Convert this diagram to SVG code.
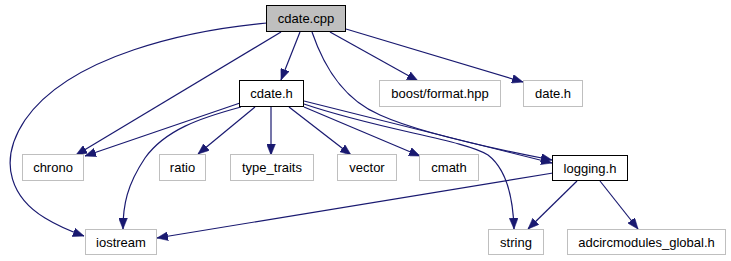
<svg xmlns="http://www.w3.org/2000/svg" width="731" height="261" viewBox="0 0 731 261">
  <style>
    .node rect { fill: #ffffff; stroke: #bfbfbf; stroke-width: 1; }
    .node.main rect { fill: #bfbfbf; stroke: #000000; }
    .node.doc rect { stroke: #000000; }
    .node text { font-family: "Liberation Sans", Arial, sans-serif; font-size: 13px; fill: #000000; text-anchor: middle; }
    .edges path { fill: none; stroke: #191970; stroke-width: 1.2; marker-end: url(#arrow); }
  </style>
  <defs>
    <marker id="arrow" markerUnits="userSpaceOnUse" viewBox="0 0 10 8" refX="10" refY="4" markerWidth="11" markerHeight="9" orient="auto">
      <path d="M0,0 L10,4 L0,8 z" fill="#191970" stroke="#191970" stroke-width="0.5"/>
    </marker>
  </defs>
  <rect width="731" height="261" fill="#ffffff"/>

  <g class="edges" id="edges">
    <!-- cdate.cpp includes -->
    <path d="M267,23 C190,30 70,55 25,120 C-5,165 15,200 45,218 C58,226 70,231 84,236"/>
    <path d="M281,32 L76,155"/>
    <path d="M300,32 L281,80"/>
    <path d="M312,32 C325,70 345,100 380,115 C420,133 500,150 552,160"/>
    <path d="M330,32 L418,81"/>
    <path d="M346,29 L523,82"/>
    <!-- cdate.h includes -->
    <path d="M240,103 L85,156"/>
    <path d="M241,107 C200,118 165,130 145,158 C127,185 123,205 123,229"/>
    <path d="M255,107 L198,154"/>
    <path d="M271,107 L271,155"/>
    <path d="M289,107 L351,155"/>
    <path d="M304,107 L420,156"/>
    <path d="M304,104 C380,130 465,140 488,155 C505,168 513,195 514,229"/>
    <path d="M304,101 L552,163"/>
    <!-- logging.h includes -->
    <path d="M553,173 L157,238"/>
    <path d="M577,181 L528,229"/>
    <path d="M600,181 L638,229"/>
  </g>

  <g class="node main" id="node-cdate-cpp">
    <rect x="266.5" y="5.5" width="79" height="26"/>
    <text x="306" y="23">cdate.cpp</text>
  </g>
  <g class="node doc" id="node-cdate-h">
    <rect x="239.5" y="80.5" width="64" height="26"/>
    <text x="271.5" y="98">cdate.h</text>
  </g>
  <g class="node" id="node-boost-format">
    <rect x="379.5" y="80.5" width="121" height="26"/>
    <text x="440" y="98">boost/format.hpp</text>
  </g>
  <g class="node" id="node-date-h">
    <rect x="523.5" y="80.5" width="59" height="26"/>
    <text x="553" y="98">date.h</text>
  </g>
  <g class="node" id="node-chrono">
    <rect x="22.5" y="154.5" width="61" height="26"/>
    <text x="53" y="172">chrono</text>
  </g>
  <g class="node" id="node-ratio">
    <rect x="159.5" y="154.5" width="46" height="26"/>
    <text x="182.5" y="172">ratio</text>
  </g>
  <g class="node" id="node-type-traits">
    <rect x="230.5" y="154.5" width="83" height="26"/>
    <text x="272" y="172">type_traits</text>
  </g>
  <g class="node" id="node-vector">
    <rect x="337.5" y="154.5" width="59" height="26"/>
    <text x="367" y="172">vector</text>
  </g>
  <g class="node" id="node-cmath">
    <rect x="419.5" y="154.5" width="59" height="26"/>
    <text x="449" y="172">cmath</text>
  </g>
  <g class="node doc" id="node-logging-h">
    <rect x="552.5" y="155.5" width="75" height="25"/>
    <text x="590" y="172.5">logging.h</text>
  </g>
  <g class="node" id="node-iostream">
    <rect x="85.5" y="229.5" width="71" height="25"/>
    <text x="121" y="247">iostream</text>
  </g>
  <g class="node" id="node-string">
    <rect x="488.5" y="229.5" width="55" height="25"/>
    <text x="516" y="247">string</text>
  </g>
  <g class="node" id="node-adcircmodules-global">
    <rect x="567.5" y="229.5" width="158" height="25"/>
    <text x="646.5" y="247">adcircmodules_global.h</text>
  </g>
</svg>
